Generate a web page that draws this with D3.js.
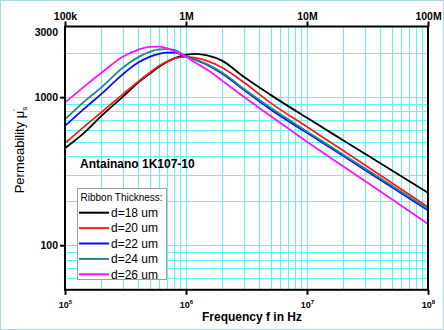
<!DOCTYPE html>
<html>
<head>
<meta charset="utf-8">
<script src="https://cdn.jsdelivr.net/npm/d3@7"></script>
<style>
html,body{margin:0;padding:0;background:#fff;}
svg{display:block;}
text{font-family:"Liberation Sans",Arial,sans-serif;}
</style>
</head>
<body>
<svg id="chart" width="444" height="330"></svg>
<script>
// ---- data ----
const freqs = [1e5,1.5e5,2e5,3e5,4e5,5e5,6e5,7e5,8e5,1e6,1.2e6,1.5e6,2e6,3e6,5e6,1e7,2e7,5e7,1e8];
const d18 = [452,592,747,1005,1249,1437,1602,1732,1829,1931,1962,1916,1759,1372,1036,725,510,321,226];
const d20 = [489,650,791,1044,1269,1460,1627,1746,1829,1872,1843,1759,1578,1259,915,630,434,264,181];
const d22 = [640,860,1053,1426,1705,1872,1962,1998,2001,1887,1786,1653,1437,1120,825,574,400,247,172];
const d24 = [710,959,1165,1578,1857,2023,2104,2110,2087,1887,1786,1666,1460,1138,847,587,409,253,176];
const d26 = [919,1211,1460,1872,2087,2188,2194,2137,2039,1872,1705,1529,1288,1005,747,499,340,205,139];
const seriesNames = ["d=18 um","d=20 um","d=22 um","d=24 um","d=26 um"];
const seriesColors = ["#000000","#ff1a1a","#0a0aff","#1a8a8a","#ff10ff"];
const seriesValues = [d18,d20,d22,d24,d26];
const xTickValues = [1e5,1e6,1e7,1e8];
const topTickLabels = ["100k","1M","10M","100M"];
const bottomExponents = ["5","6","7","8"];
const yTickValues = [3000,1000,100];
const yTickLabels = ["3000","1000","100"];

// ---- layout ----
const svg = d3.select("#chart");
const L = 65, R = 428, T = 26.5, B = 289.8;
const x = d3.scaleLog().domain([1e5,1e8]).range([L,R]);
const y = d3.scaleLog().domain([50,3000]).range([B,T]);

// outer thin border
svg.append("rect").attr("x",0.5).attr("y",0.5).attr("width",443).attr("height",329)
  .attr("fill","#fff").attr("stroke","#a8d8e0").attr("stroke-width",1);

// grid
const gx = [];
for (let e=5;e<8;e++) for (let k=1;k<10;k++) gx.push(k*Math.pow(10,e));
const gy = [];
for (let e=1;e<4;e++) for (let k=1;k<10;k++){ const v=k*Math.pow(10,e); if(v>=50 && v<=3000) gy.push(v);}
const grid = svg.append("g").attr("stroke","#5ff5f5").attr("stroke-width",1);
grid.selectAll("line.gx").data(gx.filter(v=>v>1e5)).enter().append("line")
  .attr("x1",d=>Math.round(x(d))+0.5).attr("x2",d=>Math.round(x(d))+0.5).attr("y1",T).attr("y2",B);
grid.selectAll("line.gy").data(gy.filter(v=>v>50 && v<3000)).enter().append("line")
  .attr("y1",d=>Math.round(y(d))+0.5).attr("y2",d=>Math.round(y(d))+0.5).attr("x1",L).attr("x2",R);

// curves
const line = d3.line().x(d=>x(d[0])).y(d=>y(d[1])).curve(d3.curveMonotoneX);
seriesValues.forEach((vals,i)=>{
  svg.append("path").datum(freqs.map((f,j)=>[f,vals[j]]))
    .attr("d",line).attr("fill","none").attr("stroke",seriesColors[i]).attr("stroke-width",1.8);
});

// frame
svg.append("rect").attr("x",L).attr("y",T).attr("width",R-L).attr("height",B-T)
  .attr("fill","none").attr("stroke","#000").attr("stroke-width",2);

// top axis
const topAxis = d3.axisTop(x).tickValues(xTickValues).tickSize(5).tickFormat((d,i)=>topTickLabels[i]);
const gt = svg.append("g").attr("transform",`translate(0,${T})`).call(topAxis);
gt.select(".domain").remove();
gt.selectAll(".tick line").attr("stroke","#000").attr("stroke-width",2);
gt.selectAll(".tick text").attr("font-size","10.5px").attr("font-weight","bold").attr("fill","#000")
  .attr("font-family","'Liberation Sans',Arial,sans-serif").attr("y",-7);

// bottom axis
const botAxis = d3.axisBottom(x).tickValues(xTickValues).tickSize(5).tickFormat(()=>"");
const gb = svg.append("g").attr("transform",`translate(0,${B})`).call(botAxis);
gb.select(".domain").remove();
gb.selectAll(".tick line").attr("stroke","#000").attr("stroke-width",2);
gb.selectAll(".tick").each(function(d,i){
  const t = d3.select(this).append("text").attr("y",18).attr("text-anchor","middle")
    .attr("font-size","9px").attr("font-weight","bold").attr("fill","#000")
    .attr("font-family","'Liberation Sans',Arial,sans-serif");
  t.append("tspan").text("10");
  t.append("tspan").attr("dy",-4).attr("font-size","6px").text(bottomExponents[i]);
});

// left axis
const leftAxis = d3.axisLeft(y).tickValues(yTickValues).tickSize(5).tickFormat((d,i)=>yTickLabels[i]);
const gl = svg.append("g").attr("transform",`translate(${L},0)`).call(leftAxis);
gl.select(".domain").remove();
gl.selectAll(".tick line").attr("stroke","#000").attr("stroke-width",2);
gl.selectAll(".tick text").attr("font-size","10.5px").attr("font-weight","bold").attr("fill","#000")
  .attr("font-family","'Liberation Sans',Arial,sans-serif").attr("x",-7);
// keep the top label inside like the reference
gl.selectAll(".tick").filter(d=>d===3000).select("text").attr("dy","0.32em").attr("y",y(3000)>T+2?0:6);
gl.selectAll(".tick").filter(d=>d===3000).select("line").remove();

// axis titles
svg.append("text").attr("x",252).attr("y",321).attr("text-anchor","middle")
  .attr("font-size","12px").attr("font-weight","bold").attr("fill","#000").text("Frequency f in Hz");
const yt = svg.append("text").attr("transform","translate(24,150) rotate(-90)").attr("text-anchor","middle")
  .attr("font-size","13px").attr("fill","#000");
yt.append("tspan").text("Permeability μ");
yt.append("tspan").attr("dy",3).attr("font-size","8px").text("s");
yt.append("tspan").attr("dy",-9).attr("dx",-4).attr("font-size","8px").text("'");

// annotation
svg.append("text").attr("x",80).attr("y",168).attr("font-size","12px").attr("font-weight","bold")
  .attr("fill","#000").text("Antainano 1K107-10");

// legend
const lg = svg.append("g");
lg.append("rect").attr("x",77.5).attr("y",188.5).attr("width",89).attr("height",91)
  .attr("fill","#fff").attr("stroke","#a0a0a0").attr("stroke-width",1);
lg.append("text").attr("x",80.5).attr("y",201).attr("font-size","10px").attr("fill","#000").text("Ribbon Thickness:");
seriesNames.forEach((n,i)=>{
  const yy = 212.7 + i*15.4;
  lg.append("line").attr("x1",79).attr("x2",109).attr("y1",yy).attr("y2",yy)
    .attr("stroke",seriesColors[i]).attr("stroke-width",2);
  lg.append("text").attr("x",111).attr("y",yy+4.3).attr("font-size","12px").attr("fill","#000").text(n);
});
</script>
</body>
</html>
